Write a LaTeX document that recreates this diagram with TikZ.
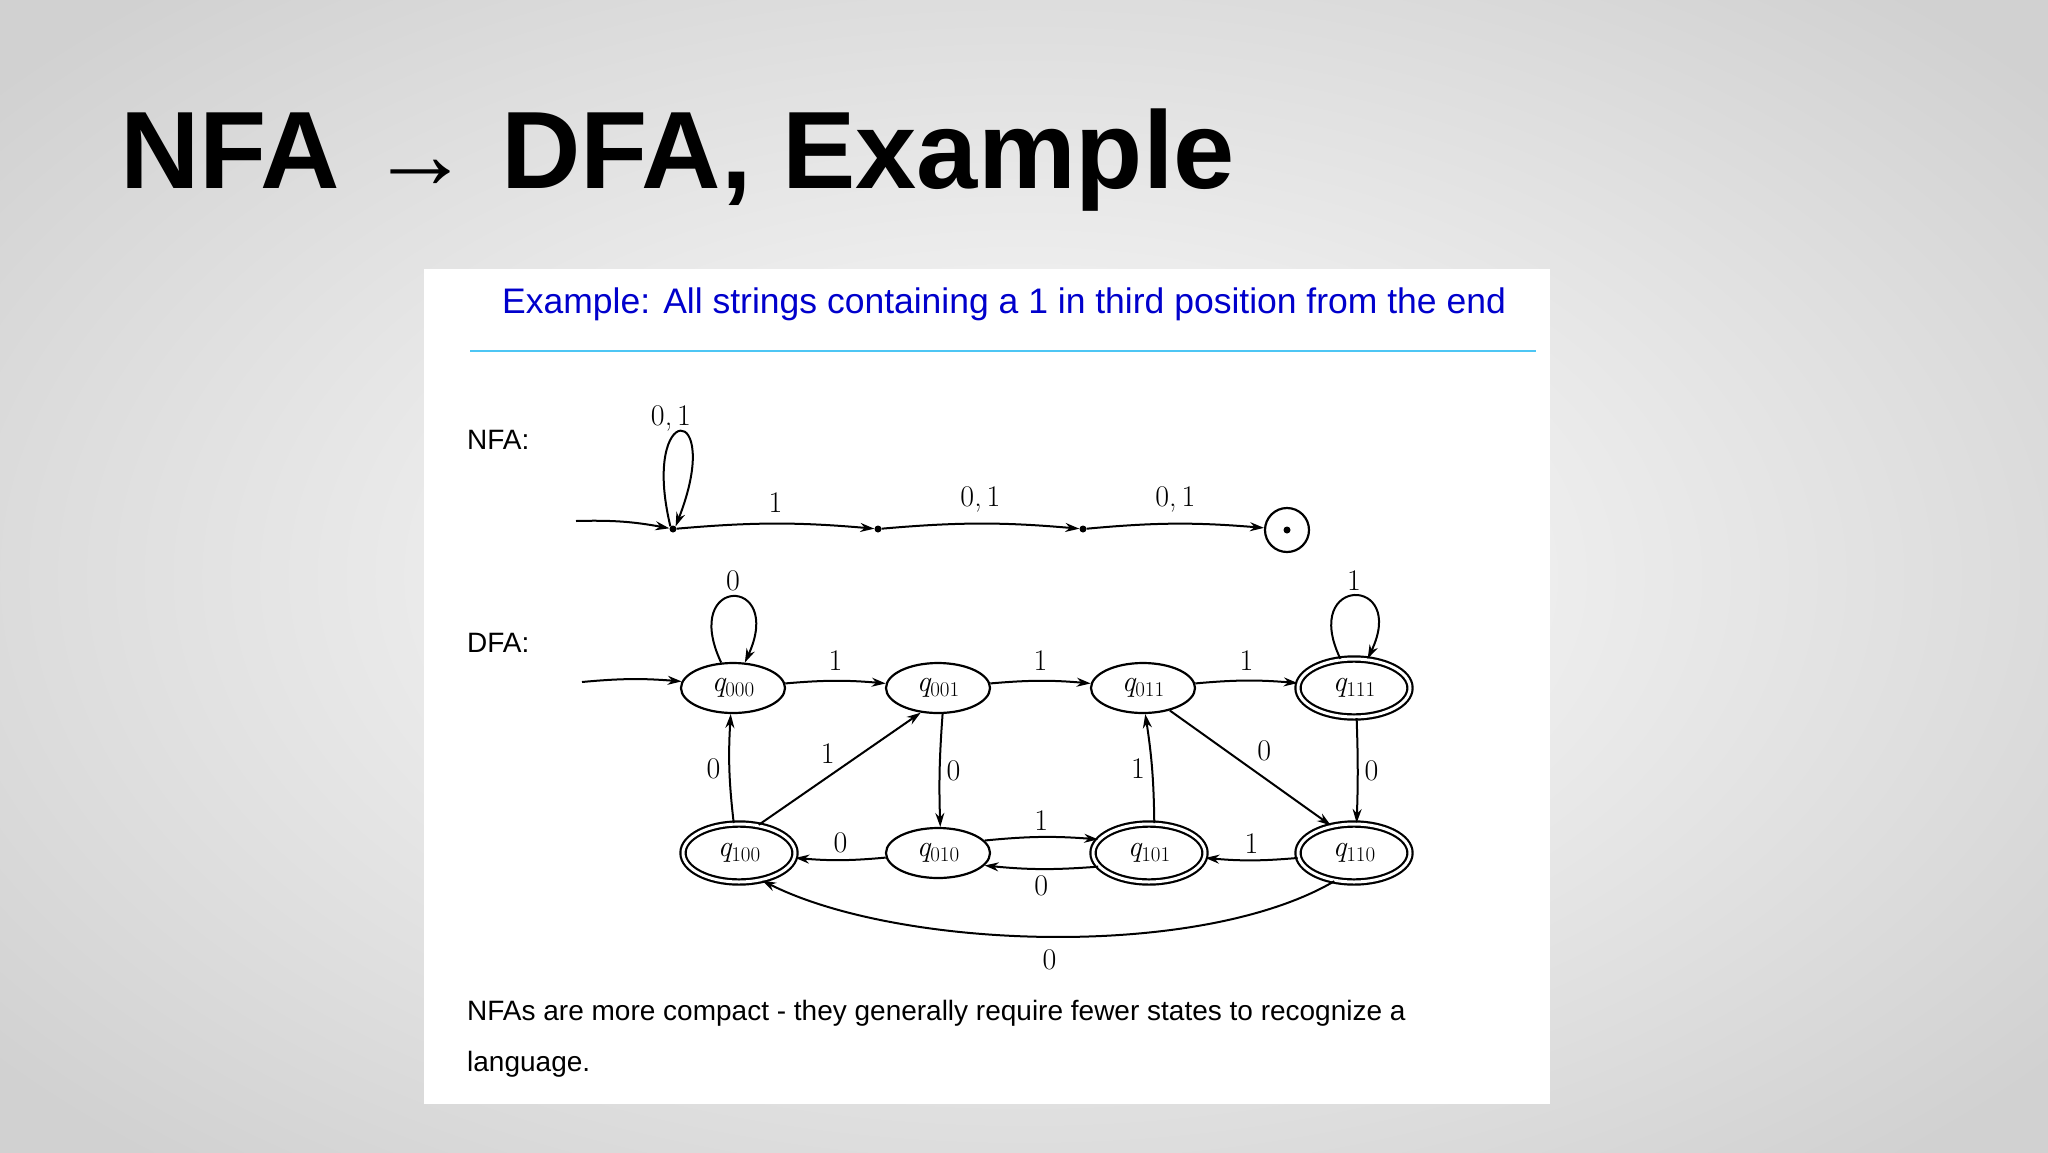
\documentclass[tikz,border=0pt]{standalone}
\usepackage{fontspec}
\setmainfont{Liberation Sans}
\newfontfamily\lmr{Latin Modern Roman}
\newcommand\stq[1]{{\lmr\itshape q}\raisebox{-5pt}{\lmr\fontsize{21}{21}\selectfont #1}}
\usetikzlibrary{arrows.meta,shapes.geometric}
\begin{document}
\begin{tikzpicture}[x=1pt,y=-1pt,
  every node/.style={inner sep=0pt},
  st/.style={draw,ellipse,line width=2.2pt,minimum width=104pt,minimum height=50pt,font=\fontsize{30}{30}\selectfont},
  acc/.style={st,double,double distance=3pt,minimum width=112pt,minimum height=58pt},
  ed/.style={line width=2pt,-{Stealth[length=14pt,width=9pt]}},
  lab/.style={font=\lmr\fontsize{30}{30}\selectfont},
  dot/.style={circle,fill,minimum size=7pt}]
\useasboundingbox (0,0) rectangle (2048,1152);
\shade[inner color=white,outer color=black!18] (-300,-200) rectangle (2348,1352);
\fill[white] (424,269) rectangle (1550,1104);
\node[anchor=west,font=\fontsize{110}{110}\selectfont\bfseries] (title) at (120,160) {NFA {\mdseries\fontsize{100}{100}\selectfont →} DFA, Example};
\node[anchor=west,text=blue!80!black,font=\fontsize{35.5}{36}\selectfont] (hdr) at (502,304) {Example: All strings containing a 1 in third position from the end};
\draw[cyan!70,line width=2.5pt] (470,351) -- (1536,351);
\node[anchor=west,font=\fontsize{28}{28}\selectfont] (nfal) at (467,440) {NFA:};
\node[anchor=west,font=\fontsize{28}{28}\selectfont] (dfal) at (467,643) {DFA:};
% NFA
\coordinate (ns) at (576,521);
\node[dot] (n0) at (673,529) {};
\node[dot] (n1) at (878,529) {};
\node[dot] (n2) at (1083,529) {};
\node[circle,draw,line width=2.2pt,minimum size=44pt] (n3) at (1287,530) {};
\fill (n3.center) circle (3.5pt);
\draw[ed] (ns) to[bend left=6] (n0);
\draw[ed] (n0.north west) .. controls (640,400) and (725,400) .. (n0.north east);
\node[lab] at (671,418) {0,\,1};
\draw[ed] (n0) to[bend left=5] node[lab,above=10pt]{1} (n1);
\draw[ed] (n1) to[bend left=5] node[lab,above=10pt]{0,\,1} (n2);
\draw[ed] (n2) to[bend left=5] node[lab,above=10pt]{0,\,1} (n3);
% DFA
\node[st] (q000) at (733,688) {\stq{000}};
\node[st] (q001) at (938,688) {\stq{001}};
\node[st] (q011) at (1143,688) {\stq{011}};
\node[acc] (q111) at (1354,688) {\stq{111}};
\node[acc] (q100) at (739,853) {\stq{100}};
\node[st] (q010) at (938,853) {\stq{010}};
\node[acc] (q101) at (1149,853) {\stq{101}};
\node[acc] (q110) at (1354,853) {\stq{110}};
\coordinate (ds) at (582,682);
\draw[ed] (ds) to[bend left=5] (q000);
\draw[ed] (q000.115) .. controls (680,575) and (785,575) .. (q000.65);
\node[lab] at (733,581) {0};
\draw[ed] (q111.115) .. controls (1300,575) and (1408,575) .. (q111.65);
\node[lab] at (1354,581) {1};
\draw[ed] (q000) to[bend left=5] node[lab,above=9pt]{1} (q001);
\draw[ed] (q001) to[bend left=5] node[lab,above=9pt]{1} (q011);
\draw[ed] (q011) to[bend left=5] node[lab,above=9pt]{1} (q111);
\draw[ed] (q100.100) to[bend left=5] node[lab,left=8pt]{0} (q000.265);
\draw[ed] (q100.55) -- node[lab,above left=4pt]{1} (q001.235);
\draw[ed] (q001.280) to[bend right=3] node[lab,right=6pt]{0} (q010.85);
\draw[ed] (q101.80) to[bend right=4] node[lab,left=6pt]{1} (q011.275);
\draw[ed] (q011.320) -- node[lab,above right=6pt]{0} (q110.130);
\draw[ed] (q111.275) to[bend left=2] node[lab,right=6pt]{0} (q110.85);
\draw[ed] (q010.185) to[bend left=5] node[lab,above=6pt]{0} (q100.355);
\draw[ed] (q010.15) to[bend left=5] node[lab,above=6pt]{1} (q101.165);
\draw[ed] (q101.195) to[bend left=5] node[lab,below=6pt]{0} (q010.345);
\draw[ed] (q110.185) to[bend left=5] node[lab,above=6pt]{1} (q101.355);
\draw[ed] (q110.235) .. controls (1200,960) and (900,950) .. node[lab,below=12pt]{0} (q100.310);
\node[anchor=west,font=\fontsize{28}{28}\selectfont] (cap1) at (467,1013) {NFAs are more compact - they generally require fewer states to recognize a};
\node[anchor=west,font=\fontsize{28}{28}\selectfont] (cap2) at (467,1064) {language.};
\end{tikzpicture}
\end{document}
